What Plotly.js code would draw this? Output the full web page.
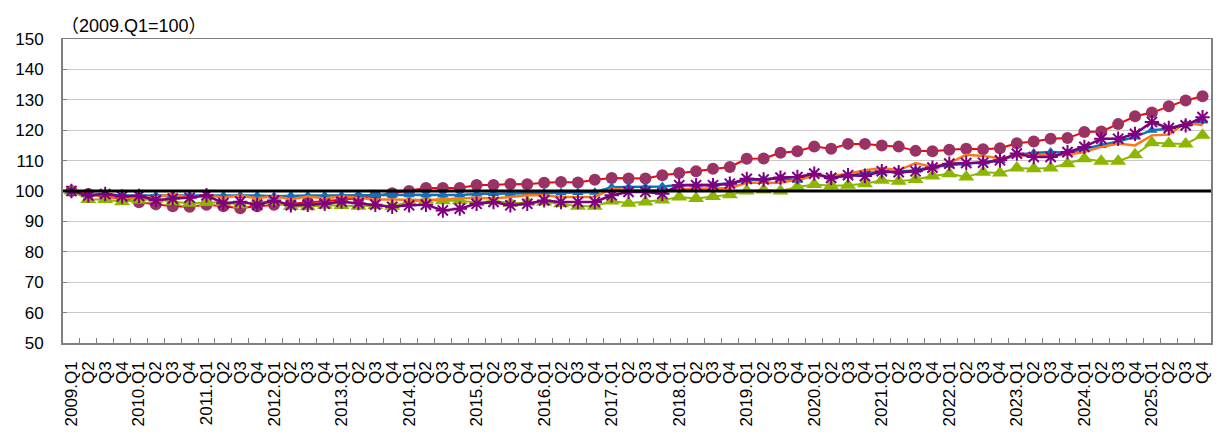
<!DOCTYPE html>
<html>
<head>
<meta charset="utf-8">
<script src="https://cdn.plot.ly/plotly-3.0.1.min.js"></script>
<style>html,body{margin:0;padding:0;background:#fff}#chart{width:1225px;height:444px}</style>
</head>
<body>
<div id="chart"></div>
<script>
const years = [2009,2010,2011,2012,2013,2014,2015,2016,2017,2018,2019,2020,2021,2022,2023,2024,2025];
const quarters = ['Q1','Q2','Q3','Q4'];
const categories = [];
const tickLabels = [];
years.forEach(y => quarters.forEach((q, k) => {
  categories.push(y + '.' + q);
  tickLabels.push(k === 0 ? y + '.' + q : q);
}));

const BASE = 100;
const unitNote = '（2009.Q1=100）';

const seriesA = [100, 99, 98, 97.5, 96.3, 95.6, 95, 94.8, 95.5, 95, 94.3, 95, 95.5, 95.8, 96.2, 96.6, 97, 97.6, 98.4, 99.3, 100, 101, 101, 101, 102, 102, 102.3, 102.2, 102.7, 103, 102.8, 103.7, 104.3, 104.1, 104.1, 105.2, 105.9, 106.5, 107.3, 107.9, 110.6, 110.7, 112.6, 113.1, 114.6, 113.9, 115.5, 115.5, 115, 114.6, 113.2, 113.1, 113.6, 113.9, 113.7, 114.1, 115.7, 116.3, 117.2, 117.4, 119.4, 119.6, 122, 124.6, 125.8, 127.9, 129.8, 131.2];
const seriesB = [100, 99, 99, 98.5, 98.5, 98.5, 98.7, 98.5, 98.7, 98.5, 98.5, 98.5, 98.3, 98.5, 98.5, 98.5, 98.5, 98.7, 98.7, 98.7, 98.8, 98.8, 98.7, 98.7, 99, 99.2, 99.2, 99.3, 99.4, 99.4, 99.5, 99.6, 101.2, 101.3, 101.3, 101.5, 102, 102, 102.1, 102.5, 103.5, 103.8, 104.2, 103.5, 105.5, 104.5, 105, 106, 106.2, 106.3, 106.8, 107.9, 108.5, 109, 109.5, 110, 111.9, 112.5, 112.8, 112.6, 113.9, 115, 116.3, 117.8, 120, 120.5, 122.1, 123];
const seriesC = [100, 99.3, 98.5, 97.7, 97.5, 98, 98.9, 97.8, 98.7, 97.9, 98.5, 97.6, 98.3, 97.3, 98.2, 97.5, 98.3, 97.8, 97.2, 97.2, 97.2, 97, 97.3, 97.5, 97.8, 97.5, 98, 98.6, 98.6, 98, 98, 98, 100.8, 100.2, 100.2, 100.2, 100.5, 100.8, 100.8, 101, 102.7, 102.7, 102.7, 103.8, 104.9, 104.9, 105.7, 106.8, 107.6, 106.8, 109.2, 107.9, 109.2, 111.9, 111.5, 110.8, 111.5, 111.9, 111.7, 111.9, 112.8, 114.5, 115.6, 115, 118.3, 118.6, 122.5, 121.6];
const seriesD = [100, 97.2, 97.2, 96.5, 97, 97.4, 96.5, 96, 96.2, 96.3, 95.5, 96.5, 96.5, 95, 94.8, 95.3, 95.2, 95, 95.2, 95, 96.5, 97, 96.8, 96.8, 96.2, 96.8, 96, 96.3, 96.4, 95.8, 95, 95, 96.7, 96, 96.4, 97, 98, 97.5, 98.2, 98.8, 100, 100.3, 100, 101.3, 102.1, 101.7, 101.9, 102.4, 103.5, 103.2, 103.8, 104.9, 105.7, 104.6, 106.2, 105.9, 107.6, 107.3, 107.6, 109, 110.6, 109.8, 109.8, 111.9, 115.9, 115.6, 115.5, 118.3];
const seriesE = [100, 98.5, 99, 98.2, 98.4, 97, 97.5, 97.8, 98.6, 96, 96.5, 95.5, 96.9, 95.3, 95.5, 95.8, 96.5, 96, 95.5, 94.8, 95.3, 95.5, 93.6, 94.2, 95.8, 96.4, 95.3, 95.8, 96.9, 96.4, 96.4, 96.4, 98.6, 99.7, 99.7, 99.1, 101.9, 101.9, 101.9, 102.4, 104, 103.8, 104.4, 104.6, 105.7, 104.3, 105.2, 104.9, 106.5, 106.2, 106.5, 107.7, 109, 109.2, 109.3, 110.1, 112.3, 111.2, 111.2, 112.8, 114.5, 117.2, 117.2, 118.8, 122.7, 120.7, 121.6, 124.3];

const yTicks = [50, 60, 70, 80, 90, 100, 110, 120, 130, 140, 150];

const FONT = 'Arial, "Liberation Sans", "Noto Sans CJK JP", sans-serif';

const traces = [
  {x: categories, y: seriesA, mode: 'lines+markers', line: {color: '#FF0000', width: 2},
   marker: {symbol: 'circle', size: 12, color: '#993366'}},
  {x: categories, y: seriesD, mode: 'lines+markers', line: {color: '#8DB600', width: 2},
   marker: {symbol: 'triangle-up', size: 14, color: '#8DB600'}},
  {x: categories, y: seriesB, mode: 'lines+markers', line: {color: '#0B72BE', width: 2.5},
   marker: {symbol: 'triangle-up', size: 10, color: '#0B72BE'}},
  {x: categories, y: seriesC, mode: 'lines', line: {color: '#FF7519', width: 2.5}},
  {x: categories, y: seriesE, mode: 'lines+markers', line: {color: '#7B007B', width: 2.5},
   marker: {symbol: 'asterisk-open', size: 12, color: '#800080', line: {width: 2, color: '#800080'}}}
];

const layout = {
  width: 1225, height: 444,
  margin: {l: 63, r: 14, t: 39, b: 101},
  paper_bgcolor: '#ffffff', plot_bgcolor: '#ffffff',
  showlegend: false,
  font: {family: FONT, color: '#000000', size: 16},
  xaxis: {
    type: 'category', range: [-0.5, categories.length - 0.5], autorange: false,
    tickmode: 'array', tickvals: categories, ticktext: tickLabels,
    tickangle: -90, tickfont: {size: 17, family: FONT}, ticks: 'inside', ticklen: 5, tickson: 'boundaries',
    ticklabelstandoff: 10,
    tickcolor: '#808080', showgrid: false, showline: true, linecolor: '#808080', linewidth: 1.5, mirror: true,
    zeroline: false, fixedrange: true
  },
  yaxis: {
    range: [50, 150], autorange: false, tickvals: yTicks, ticks: 'inside', ticklen: 4, tickcolor: '#808080',
    tickfont: {size: 17, family: FONT}, ticklabelstandoff: 14,
    showgrid: true, gridcolor: '#C8C8C8', gridwidth: 1.3,
    showline: true, linecolor: '#808080', linewidth: 2, mirror: true, zeroline: false, fixedrange: true
  },
  shapes: [{type: 'line', xref: 'paper', x0: 0, x1: 1, yref: 'y', y0: BASE, y1: BASE,
            line: {color: '#000000', width: 3}, layer: 'above'}],
  annotations: [{text: unitNote, xref: 'paper', yref: 'paper', x: 0, y: 1, xanchor: 'left', yanchor: 'bottom',
                 xshift: -4, yshift: 1, showarrow: false, font: {size: 18, family: FONT}}]
};

Plotly.newPlot('chart', traces, layout, {displayModeBar: false, staticPlot: true});
</script>
</body>
</html>
